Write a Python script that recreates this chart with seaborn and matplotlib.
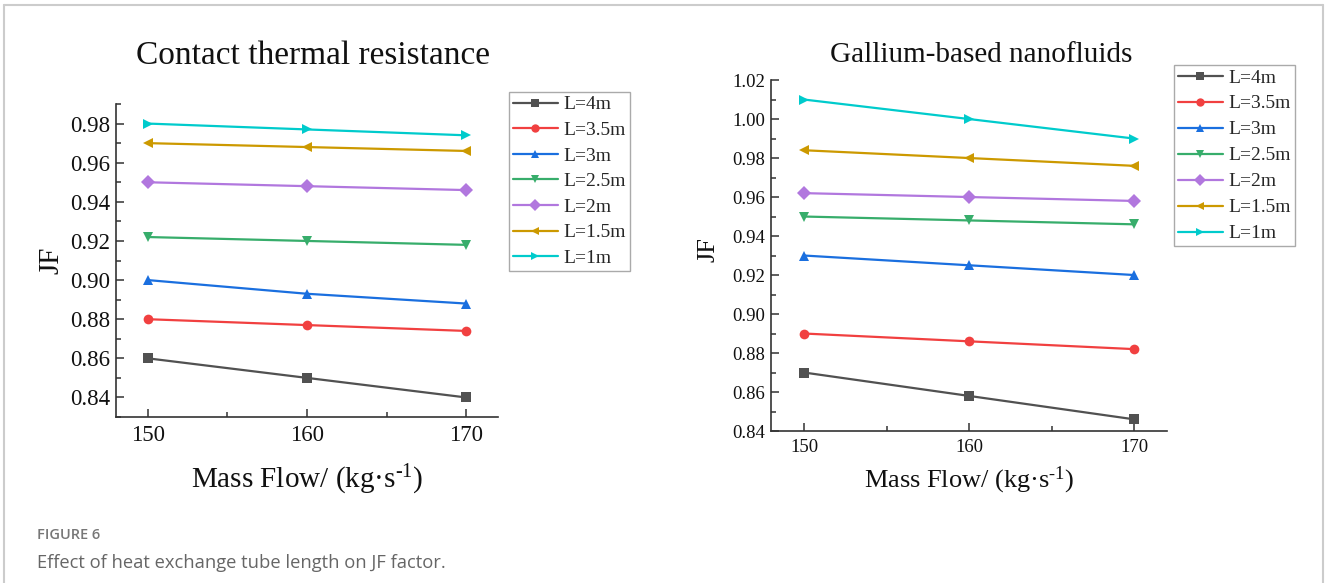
import numpy as np
import pandas as pd
import matplotlib
matplotlib.use("Agg")
import matplotlib.pyplot as plt
from matplotlib.lines import Line2D
import seaborn as sns

# data
mass_flow = [150, 160, 170]
lengths = ["L=4m", "L=3.5m", "L=3m", "L=2.5m", "L=2m", "L=1.5m", "L=1m"]

contact_4m = [0.860, 0.850, 0.840]
contact_3p5m = [0.880, 0.877, 0.874]
contact_3m = [0.900, 0.893, 0.888]
contact_2p5m = [0.922, 0.920, 0.918]
contact_2m = [0.950, 0.948, 0.946]
contact_1p5m = [0.970, 0.968, 0.966]
contact_1m = [0.980, 0.977, 0.974]

gallium_4m = [0.870, 0.858, 0.846]
gallium_3p5m = [0.890, 0.886, 0.882]
gallium_3m = [0.930, 0.925, 0.920]
gallium_2p5m = [0.950, 0.948, 0.946]
gallium_2m = [0.962, 0.960, 0.958]
gallium_1p5m = [0.984, 0.980, 0.976]
gallium_1m = [1.010, 1.000, 0.990]

colors = ["#515151", "#F14040", "#1A6FDF", "#37AD6B", "#B177DE", "#CC9900", "#00CBCC"]
markers = ["s", "o", "^", "v", "D", "<", ">"]

SERIF = ["Liberation Serif", "DejaVu Serif"]


def long_frame(series):
    rows = []
    for lab, vals in zip(lengths, series):
        for x, y in zip(mass_flow, vals):
            rows.append({"flow": x, "JF": y, "L": lab})
    return pd.DataFrame(rows)


df_contact = long_frame([contact_4m, contact_3p5m, contact_3m, contact_2p5m,
                         contact_2m, contact_1p5m, contact_1m])
df_gallium = long_frame([gallium_4m, gallium_3p5m, gallium_3m, gallium_2p5m,
                         gallium_2m, gallium_1p5m, gallium_1m])

sns.set_theme(style="ticks")
plt.rcParams["font.family"] = SERIF
plt.rcParams["mathtext.fontset"] = "custom"
plt.rcParams["mathtext.rm"] = "Liberation Serif"
plt.rcParams["mathtext.default"] = "regular"

fig = plt.figure(figsize=(13.28, 5.83), dpi=100)
ax1 = fig.add_axes([0.0873, 0.2847, 0.2877, 0.5369])
ax2 = fig.add_axes([0.5806, 0.2607, 0.2982, 0.6020])


def draw(ax, df, ylim, yticks, fs_tick, fs_lab, fs_leg, leg_anchor, spacing):
    sns.lineplot(data=df, x="flow", y="JF", hue="L", style="L",
                 hue_order=lengths, style_order=lengths,
                 palette=colors, markers=markers, dashes=False,
                 linewidth=1.6, markersize=7, markeredgewidth=0,
                 legend=False, ax=ax)
    ax.set_xlim(148, 172)
    ax.set_xticks([150, 160, 170])
    ax.set_xticks([155, 165], minor=True)
    ax.set_yticks(yticks)
    ax.set_yticks(np.arange(yticks[0] - 0.01, yticks[-1] + 0.011, 0.01), minor=True)
    ax.set_ylim(*ylim)
    ax.set_xticklabels(["150", "160", "170"])
    ax.set_yticklabels([f"{v:.2f}" for v in yticks])
    for s in ["top", "right"]:
        ax.spines[s].set_visible(False)
    for s in ["left", "bottom"]:
        ax.spines[s].set_color("#333333")
        ax.spines[s].set_linewidth(1.2)
    ax.tick_params(which="both", direction="in", color="#333333", width=1.1)
    ax.tick_params(which="major", length=6)
    ax.tick_params(which="minor", length=3.5)
    ax.tick_params(axis="x", pad=6)
    ax.tick_params(axis="y", pad=4)
    for lab in ax.get_xticklabels() + ax.get_yticklabels():
        lab.set_fontfamily(SERIF)
        lab.set_fontsize(fs_tick)
        lab.set_color("#111111")
    ax.set_xlabel("Mass Flow/ (kg·s$^{\\text{-1}}$)", fontsize=fs_lab, color="#111111")
    ax.set_ylabel("JF", fontsize=fs_lab, color="#111111")
    ax.grid(False)
    handles = [Line2D([], [], color=c, marker=m, markersize=6, markeredgewidth=0,
                      linewidth=1.6) for c, m in zip(colors, markers)]
    leg = ax.legend(handles, lengths, loc="upper left", bbox_to_anchor=leg_anchor,
                    bbox_transform=fig.transFigure, fontsize=fs_leg,
                    frameon=True, fancybox=False, edgecolor="#aaaaaa",
                    framealpha=1, borderaxespad=0, handlelength=2.3,
                    handletextpad=0.3, labelspacing=spacing, borderpad=0.2)
    leg.get_frame().set_linewidth(1.0)


draw(ax1, df_contact, (0.83, 0.99), [0.84, 0.86, 0.88, 0.90, 0.92, 0.94, 0.96, 0.98],
     16.5, 21, 14, (0.3833, 0.8422), 0.41)
ax1.yaxis.set_label_coords(-0.136, 0.5)
ax1.xaxis.set_label_coords(0.5, -0.147)

draw(ax2, df_gallium, (0.84, 1.02),
     [0.84, 0.86, 0.88, 0.90, 0.92, 0.94, 0.96, 0.98, 1.00, 1.02],
     13.5, 19, 14, (0.884, 0.8885), 0.43)
ax2.yaxis.set_label_coords(-0.131, 0.516)
ax2.xaxis.set_label_coords(0.5, -0.097)

fig.text(313 / 1328, 1 - 56 / 583, "Contact thermal resistance", fontsize=24,
         ha="center", va="center", color="#111111")
fig.text(981 / 1328, 1 - 55 / 583, "Gallium-based nanofluids", fontsize=21,
         ha="center", va="center", color="#111111")

# page frame and caption
frame_kw = dict(color="#cccccc", linewidth=1.5, transform=fig.transFigure)
fig.add_artist(Line2D([4 / 1328, 1323 / 1328], [1 - 5 / 583, 1 - 5 / 583], **frame_kw))
fig.add_artist(Line2D([4 / 1328, 4 / 1328], [0, 1 - 5 / 583], **frame_kw))
fig.add_artist(Line2D([1323 / 1328, 1323 / 1328], [0, 1 - 5 / 583], **frame_kw))
fig.text(37 / 1328, 1 - 535 / 583, "FIGURE 6", family=["Open Sans", "DejaVu Sans"],
         fontsize=10.5, weight="semibold", color="#777777", va="center")
fig.text(37 / 1328, 1 - 563 / 583, "Effect of heat exchange tube length on JF factor.",
         family=["Open Sans", "DejaVu Sans"], fontsize=13.2, color="#666666", va="center")

fig.savefig("out.png", dpi=100)
